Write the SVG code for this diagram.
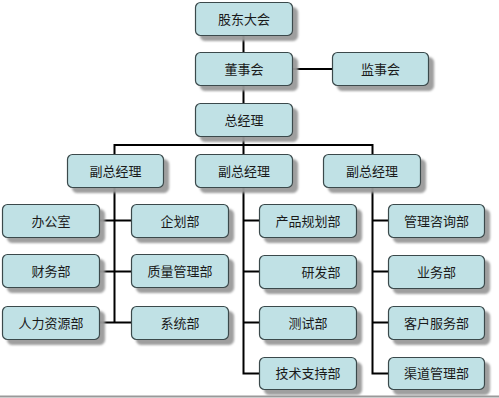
<svg xmlns="http://www.w3.org/2000/svg" width="499" height="398" viewBox="0 0 499 398">
<defs>
<filter id="sh" x="-10%" y="-20%" width="130%" height="160%">
<feDropShadow dx="5" dy="5" stdDeviation="1.2" flood-color="#9a9a9a" flood-opacity="0.95"/>
</filter>
</defs>
<style>
.b{fill:#c0e1e5;stroke:#3a4a4c;stroke-width:1.2;filter:url(#sh)}
.t{font-family:"Noto Sans CJK SC","Liberation Sans",sans-serif;font-size:13px;fill:#1a1a1a;text-anchor:middle}
.c{stroke:#000;stroke-width:2;fill:none}
</style>
<rect width="499" height="398" fill="#fff"/>
<line x1="0" y1="396.5" x2="499" y2="396.5" stroke="#999" stroke-width="2"/>
<g id="connectors" class="c">
<path d="M243.5 35V52M243.5 86V103M243.5 137V145"/>
<path d="M292 69H332"/>
<path d="M114.5 145H372.5M114.5 144V154M372.5 144V154"/>
<path d="M114.5 187V322.5M99 220.5H131M99 271.5H131M99 322.5H131"/>
<path d="M243.5 145V373.5H259M243.5 220.5H259M243.5 271.5H259M243.5 322.5H259"/>
<path d="M372.5 187V373.5H388M372.5 220.5H388M372.5 271.5H388M372.5 322.5H388"/>
</g>
<g id="n_gddh"><rect class="b" x="195.5" y="2.5" width="97" height="33" rx="5"/><text class="t" x="244" y="23.5">股东大会</text></g>
<g id="n_dsh"><rect class="b" x="195.5" y="52.5" width="97" height="33" rx="5"/><text class="t" x="244" y="73.5">董事会</text></g>
<g id="n_jsh"><rect class="b" x="332.5" y="52.5" width="96" height="33" rx="5"/><text class="t" x="380.5" y="73.5">监事会</text></g>
<g id="n_zjl"><rect class="b" x="195.5" y="103.5" width="97" height="33" rx="5"/><text class="t" x="244" y="124.5">总经理</text></g>
<g id="n_f1"><rect class="b" x="67.5" y="154.5" width="96" height="33" rx="5"/><text class="t" x="115.5" y="175.5">副总经理</text></g>
<g id="n_f2"><rect class="b" x="195.5" y="154.5" width="97" height="33" rx="5"/><text class="t" x="244" y="175.5">副总经理</text></g>
<g id="n_f3"><rect class="b" x="323.5" y="154.5" width="97" height="33" rx="5"/><text class="t" x="372" y="175.5">副总经理</text></g>
<g id="n_bgs"><rect class="b" x="2.5" y="204.5" width="97" height="33" rx="5"/><text class="t" x="51" y="225.5">办公室</text></g>
<g id="n_qhb"><rect class="b" x="131.5" y="204.5" width="97" height="33" rx="5"/><text class="t" x="180" y="225.5">企划部</text></g>
<g id="n_cwb"><rect class="b" x="2.5" y="254.5" width="97" height="33" rx="5"/><text class="t" x="51" y="275.5">财务部</text></g>
<g id="n_zlglb"><rect class="b" x="131.5" y="254.5" width="97" height="33" rx="5"/><text class="t" x="180" y="275.5">质量管理部</text></g>
<g id="n_rlzyb"><rect class="b" x="2.5" y="306.5" width="97" height="33" rx="5"/><text class="t" x="51" y="327.5">人力资源部</text></g>
<g id="n_xtb"><rect class="b" x="131.5" y="306.5" width="97" height="33" rx="5"/><text class="t" x="180" y="327.5">系统部</text></g>
<g id="n_cpghb"><rect class="b" x="259.5" y="204.5" width="97" height="33" rx="5"/><text class="t" x="308" y="225.5">产品规划部</text></g>
<g id="n_yfb"><rect class="b" x="259.5" y="255.5" width="97" height="33" rx="5"/><text class="t" x="321" y="276.5">研发部</text></g>
<g id="n_csb"><rect class="b" x="259.5" y="306.5" width="97" height="33" rx="5"/><text class="t" x="308" y="327.5">测试部</text></g>
<g id="n_jszcb"><rect class="b" x="259.5" y="357.5" width="97" height="32" rx="5"/><text class="t" x="308" y="378">技术支持部</text></g>
<g id="n_glzxb"><rect class="b" x="388.5" y="204.5" width="96" height="33" rx="5"/><text class="t" x="436.5" y="225.5">管理咨询部</text></g>
<g id="n_ywb"><rect class="b" x="388.5" y="255.5" width="96" height="33" rx="5"/><text class="t" x="436.5" y="276.5">业务部</text></g>
<g id="n_khfwb"><rect class="b" x="388.5" y="306.5" width="96" height="33" rx="5"/><text class="t" x="436.5" y="327.5">客户服务部</text></g>
<g id="n_qdglb"><rect class="b" x="388.5" y="357.5" width="96" height="32" rx="5"/><text class="t" x="436.5" y="378">渠道管理部</text></g>
</svg>
